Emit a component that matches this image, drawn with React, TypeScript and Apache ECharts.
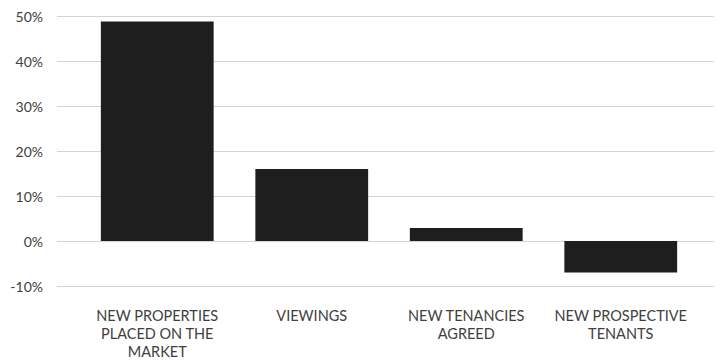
import React, { useEffect, useRef } from "react";
import * as echarts from "echarts";

const categories = [
  "NEW PROPERTIES\nPLACED ON THE\nMARKET",
  "VIEWINGS",
  "NEW TENANCIES\nAGREED",
  "NEW PROSPECTIVE\nTENANTS",
];
const values = [48.8, 16.0, 2.9, -7.0];
const yMin = -10;
const yMax = 50;
const yInterval = 10;

export default function App() {
  const ref = useRef<HTMLDivElement>(null);
  useEffect(() => {
    if (!ref.current) return;
    const chart = echarts.init(ref.current, null, { renderer: "svg" });
    const font = "Lato, 'Noto Sans', sans-serif";
    chart.setOption({
      animation: false,
      backgroundColor: "#ffffff",
      grid: [
        { left: 57, right: 12, top: 16, bottom: 74 },
        { left: 80, right: 28, top: 16, bottom: 74 },
      ],
      xAxis: [
        { gridIndex: 0, type: "category", data: categories, show: false },
        {
          gridIndex: 1,
          type: "category",
          data: categories,
          axisLine: { show: false },
          axisTick: { show: false },
          axisLabel: {
            interval: 0,
            margin: 20,
            color: "#404040",
            fontFamily: font,
            fontSize: 14.5,
            lineHeight: 18,
            align: "center",
          },
        },
      ],
      yAxis: [
        {
          gridIndex: 0,
          type: "value",
          min: yMin,
          max: yMax,
          interval: yInterval,
          axisLine: { show: false },
          axisTick: { show: false },
          axisLabel: {
            formatter: "{value}%",
            margin: 14,
            color: "#404040",
            fontFamily: font,
            fontSize: 14,
          },
          splitLine: { lineStyle: { color: "#d4d4d4", width: 1 } },
        },
        {
          gridIndex: 1,
          type: "value",
          min: yMin,
          max: yMax,
          interval: yInterval,
          show: false,
          splitLine: { show: false },
        },
      ],
      series: [
        {
          type: "bar",
          xAxisIndex: 1,
          yAxisIndex: 1,
          data: values,
          barCategoryGap: "27%",
          itemStyle: { color: "#1e1e1e" },
        },
      ],
    });
    return () => chart.dispose();
  }, []);
  return (
    <div
      ref={ref}
      style={{ position: "fixed", left: 0, top: 0, width: 726, height: 360 }}
    />
  );
}
